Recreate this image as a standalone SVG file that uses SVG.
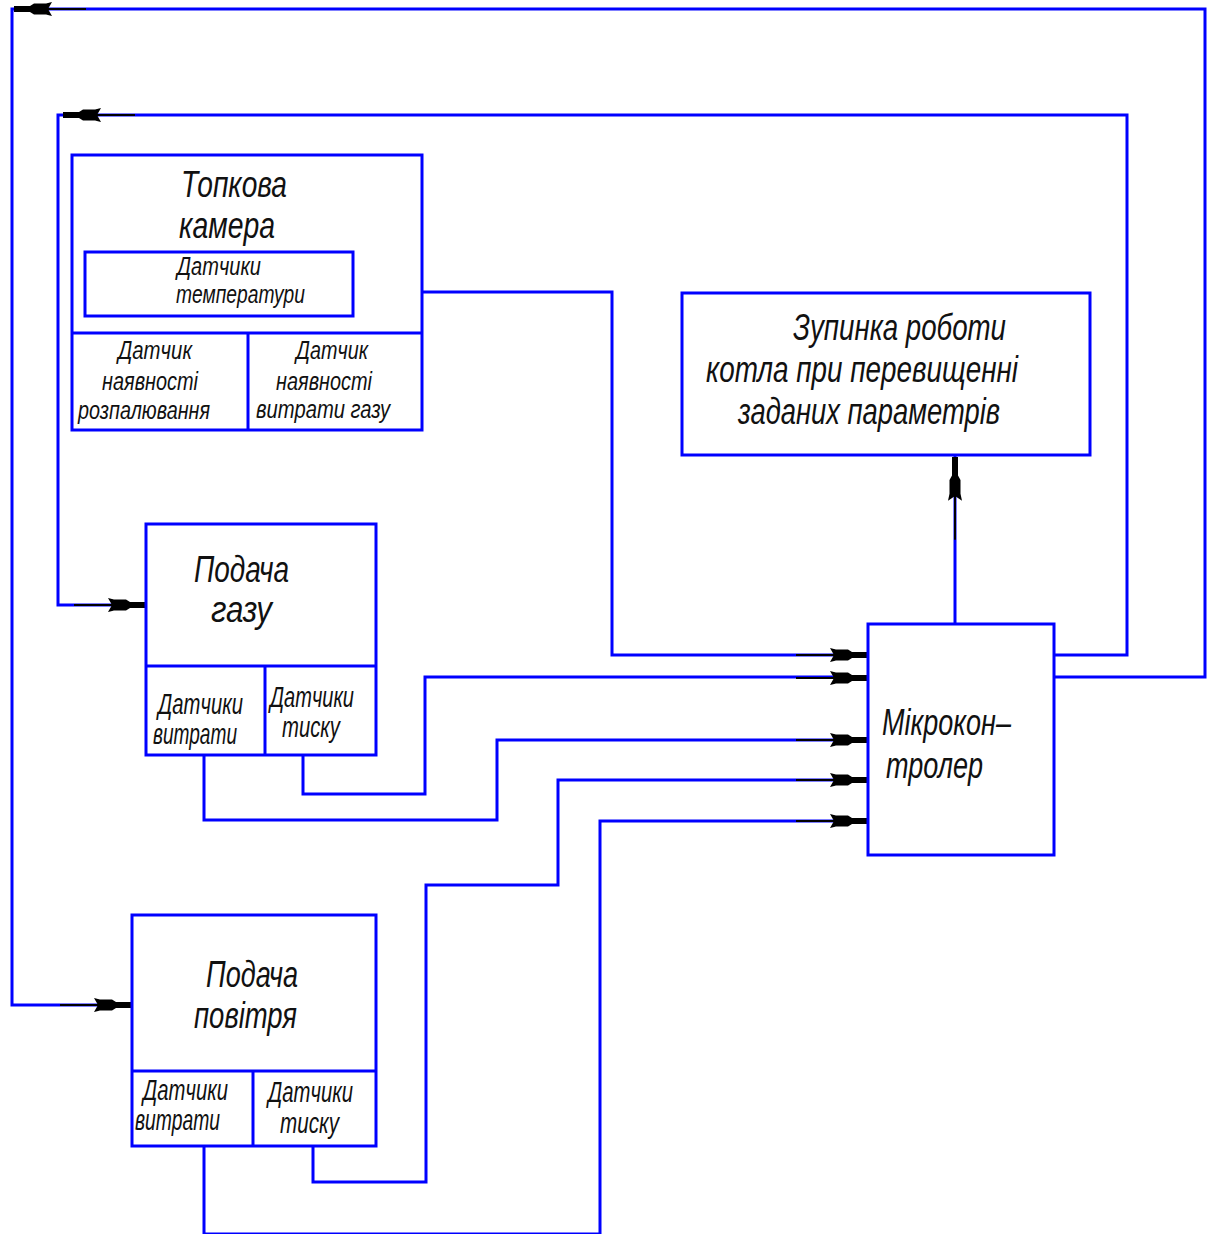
<svg xmlns="http://www.w3.org/2000/svg" xmlns:xlink="http://www.w3.org/1999/xlink" width="1214" height="1234" viewBox="0 0 1214 1234">
<style>
.box{fill:none;stroke:#0000ff;stroke-width:3;stroke-linejoin:miter}
.ln{fill:none;stroke:#0000ff;stroke-width:3}
.t{font-family:'Liberation Sans','DejaVu Sans',sans-serif;font-style:italic;fill:#111;}
.L{font-size:36px}
.M{font-size:29px}
.S{font-size:25px}
</style>
<defs>
<g id="ah">
<line x1="-72" y1="0" x2="0" y2="0" stroke="#000" stroke-width="2"/>
<polygon points="-38,-7 -32,-5.5 -20,-5.5 -16,-3 0,-3 0,3 -16,3 -20,5.5 -32,5.5 -38,7 -34,0" fill="#000"/>
</g>
</defs>
<rect width="1214" height="1234" fill="#fff"/>

<g id="connectors">
<path class="ln" d="M422,292 H612 V655 H868"/>
<path class="ln" d="M204,755 V820 H497 V740 H868"/>
<path class="ln" d="M303,755 V794 H425 V677 H868"/>
<path class="ln" d="M313,1146 V1182 H426 V885 H558 V780 H868"/>
<path class="ln" d="M204,1146 V1234 H600 V821 H868"/>
<path class="ln" d="M1054,655 H1127 V115 H58 V605 H146"/>
<path class="ln" d="M1054,677 H1205 V9 H12 V1005 H132"/>
<path class="ln" d="M955,624 V456"/>
<use xlink:href="#ah" transform="translate(868,655)"/>
<use xlink:href="#ah" transform="translate(868,678)"/>
<use xlink:href="#ah" transform="translate(868,740)"/>
<use xlink:href="#ah" transform="translate(868,780)"/>
<use xlink:href="#ah" transform="translate(868,821)"/>
<use xlink:href="#ah" transform="translate(14,9) rotate(180)"/>
<use xlink:href="#ah" transform="translate(63,115) rotate(180)"/>
<use xlink:href="#ah" transform="translate(146,605)"/>
<use xlink:href="#ah" transform="translate(132,1005)"/>
<use xlink:href="#ah" transform="translate(955,457) rotate(-90) scale(1.15,1)"/>
</g>

<g id="topkova-kamera">
<rect class="box" x="72" y="155" width="350" height="275"/>
<line class="ln" x1="72" y1="333" x2="422" y2="333"/>
<line class="ln" x1="248" y1="333" x2="248" y2="430"/>
<text class="t L" x="181" y="197" textLength="106" lengthAdjust="spacingAndGlyphs">Топкова</text>
<text class="t L" x="179" y="238" textLength="96" lengthAdjust="spacingAndGlyphs">камера</text>
</g>
<g id="datchyky-temperatury">
<rect class="box" x="85" y="252" width="268" height="64"/>
<text class="t S" x="177" y="275" textLength="84" lengthAdjust="spacingAndGlyphs">Датчики</text>
<text class="t S" x="176" y="303" textLength="129" lengthAdjust="spacingAndGlyphs">температури</text>
</g>
<g id="datchyk-rozpaliuvannia">
<text class="t S" x="118" y="359" textLength="74" lengthAdjust="spacingAndGlyphs">Датчик</text>
<text class="t S" x="102" y="390" textLength="96" lengthAdjust="spacingAndGlyphs">наявності</text>
<text class="t S" x="78" y="419" textLength="132" lengthAdjust="spacingAndGlyphs">розпалювання</text>
</g>
<g id="datchyk-vytraty-gazu">
<text class="t S" x="296" y="359" textLength="72" lengthAdjust="spacingAndGlyphs">Датчик</text>
<text class="t S" x="276" y="390" textLength="96" lengthAdjust="spacingAndGlyphs">наявності</text>
<text class="t S" x="256" y="418" textLength="134" lengthAdjust="spacingAndGlyphs">витрати газу</text>
</g>

<g id="podacha-gazu">
<rect class="box" x="146" y="524" width="230" height="231"/>
<line class="ln" x1="146" y1="666" x2="376" y2="666"/>
<line class="ln" x1="265" y1="666" x2="265" y2="755"/>
<text class="t L" x="194" y="582" textLength="95" lengthAdjust="spacingAndGlyphs">Подача</text>
<text class="t L" x="211" y="622" textLength="61" lengthAdjust="spacingAndGlyphs">газу</text>
<text class="t M" x="158" y="714" textLength="85" lengthAdjust="spacingAndGlyphs">Датчики</text>
<text class="t M" x="153" y="744" textLength="84" lengthAdjust="spacingAndGlyphs">витрати</text>
<text class="t M" x="270" y="707" textLength="84" lengthAdjust="spacingAndGlyphs">Датчики</text>
<text class="t M" x="282" y="737" textLength="58" lengthAdjust="spacingAndGlyphs">тиску</text>
</g>

<g id="podacha-povitria">
<rect class="box" x="132" y="915" width="244" height="231"/>
<line class="ln" x1="132" y1="1071" x2="376" y2="1071"/>
<line class="ln" x1="253" y1="1071" x2="253" y2="1146"/>
<text class="t L" x="206" y="987" textLength="92" lengthAdjust="spacingAndGlyphs">Подача</text>
<text class="t L" x="194" y="1028" textLength="103" lengthAdjust="spacingAndGlyphs">повітря</text>
<text class="t M" x="143" y="1100" textLength="85" lengthAdjust="spacingAndGlyphs">Датчики</text>
<text class="t M" x="135" y="1130" textLength="85" lengthAdjust="spacingAndGlyphs">витрати</text>
<text class="t M" x="268" y="1102" textLength="85" lengthAdjust="spacingAndGlyphs">Датчики</text>
<text class="t M" x="280" y="1133" textLength="59" lengthAdjust="spacingAndGlyphs">тиску</text>
</g>

<g id="zupynka">
<rect class="box" x="682" y="293" width="408" height="162"/>
<text class="t L" x="793" y="340" textLength="213" lengthAdjust="spacingAndGlyphs">Зупинка роботи</text>
<text class="t L" x="706" y="382" textLength="312" lengthAdjust="spacingAndGlyphs">котла при перевищенні</text>
<text class="t L" x="738" y="424" textLength="262" lengthAdjust="spacingAndGlyphs">заданих параметрів</text>
</g>

<g id="mikrokontroler">
<rect class="box" x="868" y="624" width="186" height="231"/>
<text class="t L" x="882" y="735" textLength="129" lengthAdjust="spacingAndGlyphs">Мікрокон–</text>
<text class="t L" x="886" y="778" textLength="97" lengthAdjust="spacingAndGlyphs">тролер</text>
</g>
</svg>
